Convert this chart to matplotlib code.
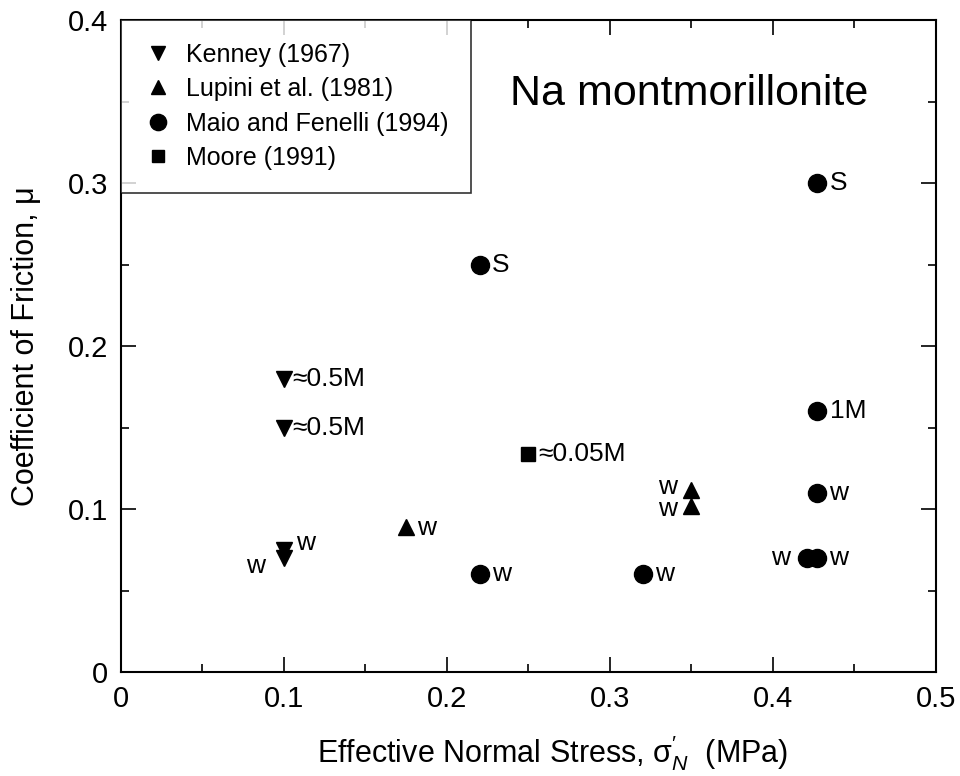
import matplotlib
matplotlib.use("Agg")
import matplotlib.pyplot as plt

plt.rcParams['font.family'] = ['Liberation Sans', 'DejaVu Sans']
plt.rcParams['mathtext.fontset'] = 'custom'
plt.rcParams['mathtext.rm'] = 'Liberation Sans'
plt.rcParams['mathtext.it'] = 'Liberation Sans:italic'

# Data
kenney_x = [0.1, 0.1, 0.1, 0.1]
kenney_y = [0.180, 0.150, 0.075, 0.070]
kenney_lbl = ["≈0.5M", "≈0.5M", "w", "w"]

lupini_x = [0.175, 0.35, 0.35]
lupini_y = [0.089, 0.112, 0.102]
lupini_lbl = ["w", "w", "w"]

maio_x = [0.22, 0.427, 0.427, 0.427, 0.421, 0.427, 0.22, 0.32]
maio_y = [0.250, 0.300, 0.160, 0.110, 0.070, 0.070, 0.060, 0.060]
maio_lbl = ["S", "S", "1M", "w", "w", "w", "w", "w"]

moore_x = [0.25]
moore_y = [0.134]
moore_lbl = ["≈0.05M"]

x_ticks = [0, 0.1, 0.2, 0.3, 0.4, 0.5]
x_tick_labels = ["0", "0.1", "0.2", "0.3", "0.4", "0.5"]
y_ticks = [0, 0.1, 0.2, 0.3, 0.4]
y_tick_labels = ["0", "0.1", "0.2", "0.3", "0.4"]
x_minor = [0.05, 0.15, 0.25, 0.35, 0.45]
y_minor = [0.05, 0.15, 0.25, 0.35]

# label placement (offset points)
kenney_off = [(6, 0), (6, 0), (9, 5), (-27, -6)]
lupini_off = [(8, -1), (-24, 2), (-24, -2)]
maio_off = [(9, 0), (9, 0), (9, 0), (9, 0), (-26, 0), (9, 0), (9, 0), (9, 0)]
moore_off = [(7, 0)]

fig = plt.figure(figsize=(9.6, 7.76), dpi=100)
ax = fig.add_axes([0.126, 0.134, 0.849, 0.840])

ax.plot(kenney_x, kenney_y, 'kv', ms=11, ls='none', label='Kenney (1967)')
ax.plot(lupini_x, lupini_y, 'k^', ms=11, ls='none', label='Lupini et al. (1981)')
ax.plot(maio_x, maio_y, 'ko', ms=13, ls='none', label='Maio and Fenelli (1994)')
ax.plot(moore_x, moore_y, 'ks', ms=10, ls='none', label='Moore (1991)')

for xs, ys, lbls, offs in [(kenney_x, kenney_y, kenney_lbl, kenney_off),
                           (lupini_x, lupini_y, lupini_lbl, lupini_off),
                           (maio_x, maio_y, maio_lbl, maio_off),
                           (moore_x, moore_y, moore_lbl, moore_off)]:
    for x, y, t, o in zip(xs, ys, lbls, offs):
        ax.annotate(t, (x, y), xytext=o, textcoords='offset points',
                    ha='left', va='center', fontsize=19)

ax.text(0.697, 0.887, "Na montmorillonite", transform=ax.transAxes,
        ha='center', va='center', fontsize=31)

ax.set_xlim(0, 0.5)
ax.set_ylim(0, 0.4)
ax.set_xticks(x_ticks)
ax.set_xticklabels(x_tick_labels)
ax.set_xticks(x_minor, minor=True)
ax.set_yticks(y_ticks)
ax.set_yticklabels(y_tick_labels)
ax.set_yticks(y_minor, minor=True)
ax.tick_params(which='both', direction='in', top=True, right=True, width=1.2)
ax.tick_params(which='major', length=11, labelsize=21, pad=9)
ax.tick_params(which='minor', length=6)
for s in ax.spines.values():
    s.set_linewidth(1.5)

ax.set_xlabel(r"Effective Normal Stress, $\mathrm{σ}^{\prime}_{N}$  (MPa)", fontsize=22)
ax.set_ylabel("Coefficient of Friction, μ", fontsize=22)
ax.xaxis.set_label_coords(0.529, -0.094)
ax.yaxis.set_label_coords(-0.098, 0.5)

leg = ax.legend(loc='upper left', fontsize=18, frameon=True, fancybox=False,
                edgecolor='black', borderaxespad=0, handletextpad=0.5,
                borderpad=0.9, labelspacing=0.42, handlelength=1.2, markerscale=0.9)
leg.get_frame().set_linewidth(1.2)

fig.savefig("out.png", dpi=100)
